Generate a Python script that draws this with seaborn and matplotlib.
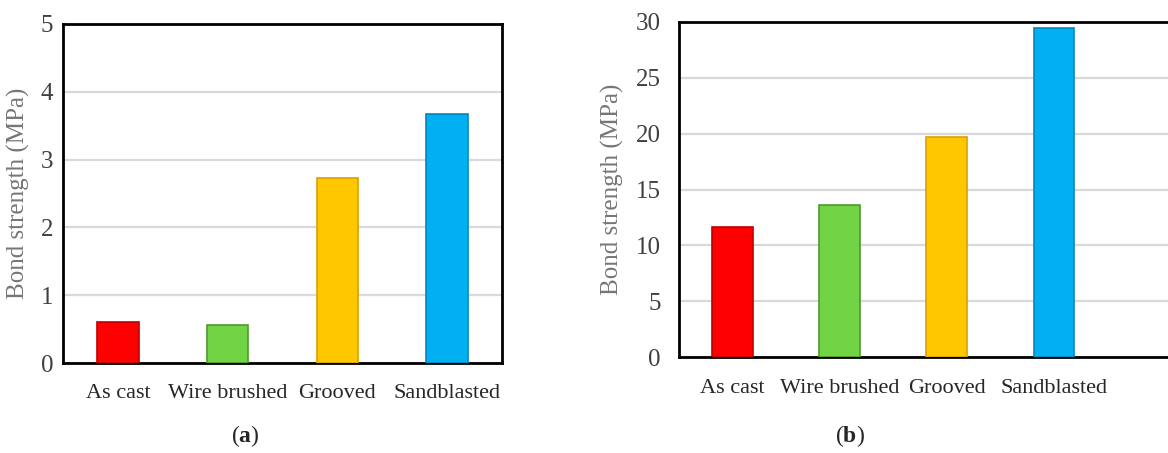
import matplotlib
matplotlib.use("Agg")
import matplotlib.pyplot as plt
import seaborn as sns
import pandas as pd

categories = ["As cast", "Wire brushed", "Grooved", "Sandblasted"]
values_a = [0.60, 0.56, 2.73, 3.67]
values_b = [11.6, 13.6, 19.7, 29.5]
yticks_a = [0, 1, 2, 3, 4, 5]
yticks_b = [0, 5, 10, 15, 20, 25, 30]
colors = ["#FF0000", "#70D444", "#FFC700", "#00B0F0"]
edge_colors = ["#C00000", "#4E9A2E", "#D9A200", "#0088C0"]

sns.set_theme(style="white")
plt.rcParams['font.family'] = ['Liberation Serif', 'DejaVu Serif']
plt.rcParams['mathtext.fontset'] = 'custom'
plt.rcParams['mathtext.rm'] = 'Liberation Serif'
plt.rcParams['mathtext.bf'] = 'Liberation Serif:bold'

fig = plt.figure(figsize=(11.68, 4.53), dpi=100)
ax_a = fig.add_axes([63/1168, (453-363)/453, 439/1168, 339/453])
ax_b = fig.add_axes([679/1168, (453-357)/453, (1168-679)/1168, 335/453])

def draw(ax, vals, yticks, xlim_right, ypad, xpad, show_right):
    df = pd.DataFrame({"cat": categories, "val": vals})
    sns.barplot(data=df, x="cat", y="val", hue="cat", palette=colors,
                width=0.38, legend=False, ax=ax, zorder=3, saturation=1)
    for p, ec in zip(ax.patches, edge_colors):
        p.set_edgecolor(ec)
        p.set_linewidth(1.2)
    ax.set_ylim(yticks[0], yticks[-1])
    ax.set_yticks(yticks)
    ax.set_xlim(-0.5, xlim_right)
    ax.yaxis.grid(True, color="#D9D9D9", linewidth=1.6, zorder=0)
    ax.set_axisbelow(True)
    ax.tick_params(axis="y", length=0, pad=ypad, labelsize=18, labelcolor="#404040")
    ax.tick_params(axis="x", length=0, pad=xpad, labelsize=16, labelcolor="#262626")
    ax.set_xlabel("")
    ax.set_ylabel("Bond strength (MPa)", fontsize=18, color="#767676")
    for side in ["left", "top", "bottom", "right"]:
        ax.spines[side].set_color("black")
        ax.spines[side].set_linewidth(2)
    ax.spines["right"].set_visible(show_right)

draw(ax_a, values_a, yticks_a, 3.5, 7, 15, True)
ax_a.yaxis.set_label_coords(-0.075, 0.5)
draw(ax_b, values_b, yticks_b, (1168-733)/107, 13, 16, False)
ax_b.yaxis.set_label_coords(-0.113, 0.5)

fig.text(245/1168, 1-436/453, r"($\mathbf{a}$)", ha="center", va="center", fontsize=17)
fig.text(850/1168, 1-436/453, r"($\mathbf{b}$)", ha="center", va="center", fontsize=17)

fig.savefig("out.png", dpi=100)
